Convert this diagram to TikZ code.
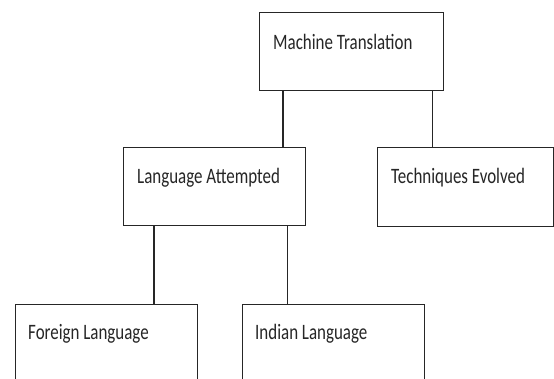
\documentclass[tikz,border=0pt]{standalone}
\usepackage{graphicx}
\usepackage{fontspec}
\setmainfont{Carlito}
\newcommand{\narrowtxt}[1]{\scalebox{0.77}[1]{#1}}
\begin{document}
\begin{tikzpicture}[x=1pt,y=-1pt,
  box/.style={draw=black!85, line width=1.4pt, anchor=north west, inner sep=0pt, minimum height=78pt},
  lbl/.style={anchor=base west, inner sep=0pt, font=\fontsize{22}{26}\selectfont, text=black!85},
  conn/.style={draw=black!85, line width=1.4pt}]
\clip (0,0) rectangle (554,378);
\fill[white] (0,0) rectangle (554,378);
\node[box, minimum width=184pt] (mt) at (259,12) {};
\node[box, minimum width=182pt] (la) at (123,147) {};
\node[box, minimum width=176pt, minimum height=79pt] (te) at (377,147) {};
\node[box, minimum width=182pt, minimum height=90pt] (fl) at (15,304) {};
\node[box, minimum width=182pt, minimum height=90pt] (il) at (242,304) {};
\node[lbl] (tmt) at (273,49) {\narrowtxt{Machine Translation}};
\node[lbl] (tla) at (137,183) {\narrowtxt{Language Attempted}};
\node[lbl] (tte) at (391,183) {\narrowtxt{Techniques Evolved}};
\node[lbl] (tfl) at (28,339) {\narrowtxt{Foreign Language}};
\node[lbl] (til) at (255,339) {\narrowtxt{Indian Language}};
\draw[conn] ([xshift=24pt]mt.south west) -- ([xshift=24pt]mt.south west |- la.north);
\draw[conn] ([xshift=-12pt]mt.south east) -- ([xshift=-12pt]mt.south east |- te.north);
\draw[conn] ([xshift=31pt]la.south west) -- ([xshift=31pt]la.south west |- fl.north);
\draw[conn] ([xshift=-19pt]la.south east) -- ([xshift=-19pt]la.south east |- il.north);
\end{tikzpicture}
\end{document}
